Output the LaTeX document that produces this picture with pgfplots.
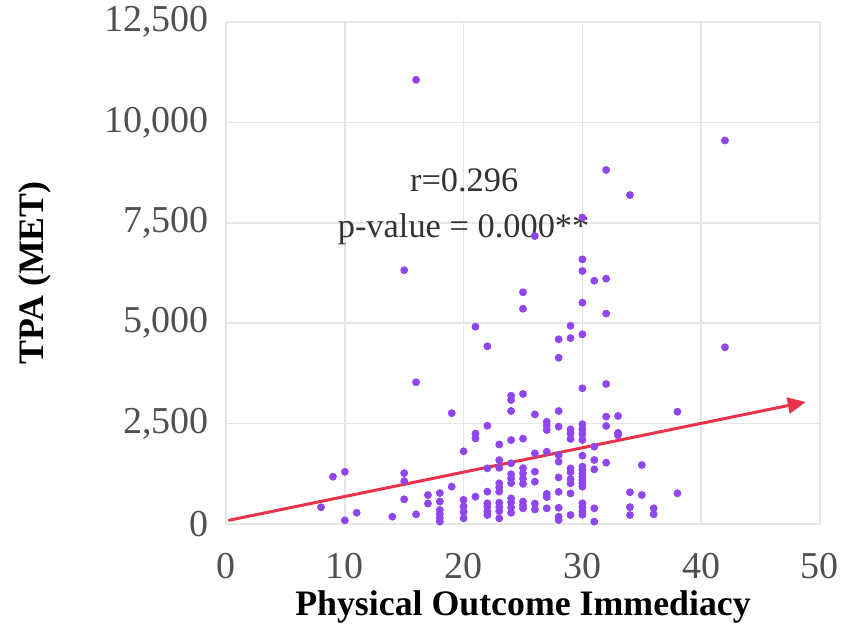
\documentclass[border=0pt]{standalone}
\usepackage{fontspec}
\setmainfont{Liberation Serif}
\usepackage{pgfplots}
\pgfplotsset{compat=1.18}
\usetikzlibrary{arrows.meta}
\definecolor{dotc}{HTML}{9046EE}
\definecolor{arrc}{HTML}{E8334A}
\definecolor{gridc}{HTML}{E6E6E6}
\definecolor{tickc}{HTML}{505050}
\begin{document}
\begin{tikzpicture}
\useasboundingbox (-113pt,-52pt) rectangle (308pt,262pt);
\begin{axis}[
  scale only axis,
  width=297pt, height=251pt,
  xmin=0, xmax=50, ymin=0, ymax=12500,
  xtick={0,10,20,30,40,50},
  ytick={0,2500,5000,7500,10000,12500},
  scaled y ticks=false,
  scaled x ticks=false,
  grid=major,
  grid style={gridc, line width=0.8pt},
  axis line style={draw=none},
  major tick length=0pt,
  /pgf/number format/assume math mode=true,
  /pgf/number format/.cd, 1000 sep={,}, fixed,
  /pgfplots/.cd,
  tick label style={font=\fontsize{19}{22}\selectfont, text=tickc},
  xticklabel style={yshift=-11pt},
  yticklabel style={xshift=-5pt},
  xlabel={Physical Outcome Immediacy},
  ylabel={TPA (MET)},
  every axis x label/.style={at={(axis description cs:0.5,-0.1650)}, anchor=center, font=\fontsize{17.9}{21}\selectfont\bfseries},
  every axis y label/.style={at={(axis description cs:-0.3215,0.5)}, anchor=center, rotate=90, font=\fontsize{17.9}{21}\selectfont\bfseries},
  clip=false,
]
\addplot[only marks, mark=*, mark size=1.75pt, dotc, mark options={draw=dotc, fill=dotc}] table[x=x, y=y] {
x y
8 416
9 1178
10 1300
10 90
11 280
14 182
15 6320
15 1265
15 1070
15 615
16 11060
16 3530
16 241
17 722
17 510
18 770
18 560
18 350
18 250
18 160
18 60
19 2760
19 930
20 1810
20 600
20 440
20 300
20 141
21 4913
21 2250
21 2130
21 681
22 4425
22 2448
22 1386
22 805
22 515
22 432
22 310
22 224
23 1980
23 1590
23 1400
23 1013
23 913
23 805
23 530
23 420
23 320
23 141
24 3195
24 3088
24 2814
24 2090
24 1511
24 1240
24 1130
24 1020
24 639
24 540
24 410
24 280
25 5770
25 5360
25 3237
25 2125
25 1390
25 1260
25 1130
25 1000
25 560
25 470
25 390
26 7170
26 2730
26 1760
26 1303
26 1054
26 510
26 360
27 2548
27 2449
27 2341
27 1801
27 750
27 670
27 390
28 4600
28 4140
28 2814
28 2424
28 1718
28 1552
28 1160
28 800
28 405
28 183
28 100
29 4935
29 4630
29 2358
29 2258
29 2117
29 1386
29 1290
29 1120
29 1013
29 760
29 224
30 7630
30 6590
30 6300
30 5511
30 4723
30 3379
30 2486
30 2358
30 2241
30 2092
30 1702
30 1428
30 1344
30 1262
30 1179
30 1096
30 1013
30 930
30 515
30 415
30 307
30 230
31 6058
31 1926
31 1594
31 1361
31 390
31 58
32 8815
32 6108
32 5240
32 3486
32 2673
32 2441
32 1527
33 2690
33 2270
33 2210
34 8192
34 790
34 420
34 224
35 1469
35 722
36 391
36 241
38 2796
38 764
42 9550
42 4400
};
\addplot[arrc, line width=1.5pt, -{Triangle[length=9pt,width=8pt]}] coordinates {(0.2,90) (48.8,3040)};
\node[font=\fontsize{17.2}{20}\selectfont, text=black!80] at (axis cs:20.05,8560) {r=0.296};
\node[font=\fontsize{17.2}{20}\selectfont, text=black!80] at (axis cs:20.0,7350) {p-value = 0.000**};
\end{axis}
\end{tikzpicture}
\end{document}
